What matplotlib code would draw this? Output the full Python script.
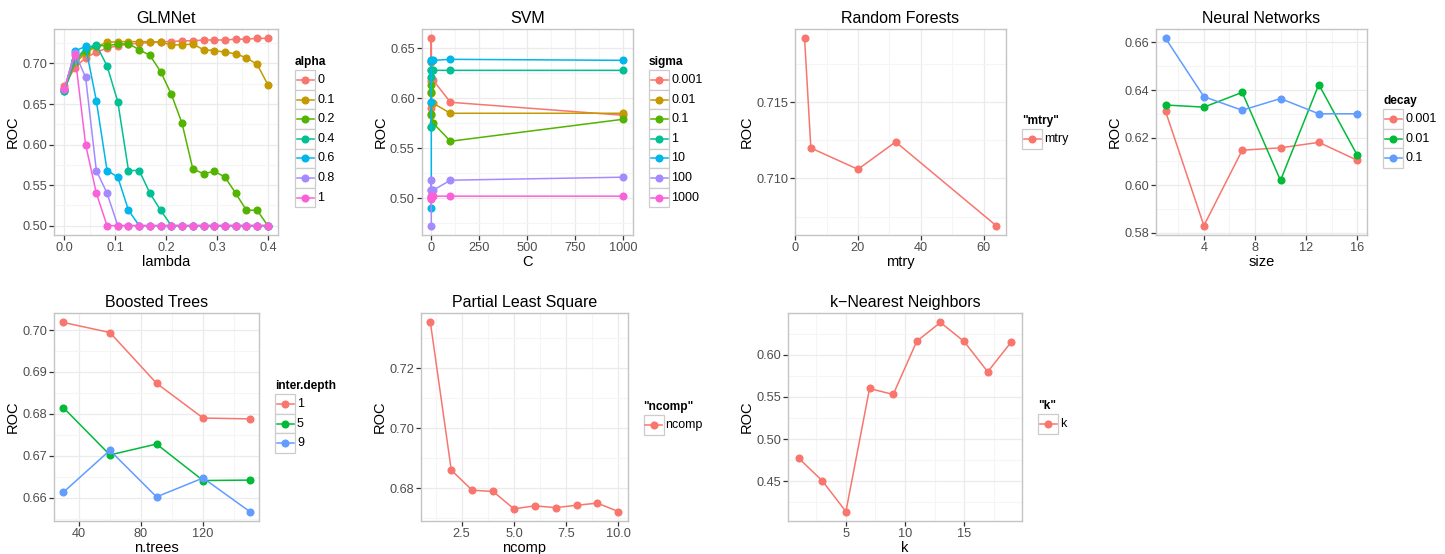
import matplotlib
matplotlib.use("Agg")
import matplotlib.pyplot as plt
from matplotlib.ticker import MultipleLocator, AutoMinorLocator, FormatStrFormatter
from matplotlib.lines import Line2D
from matplotlib.patches import Rectangle

plt.rcParams['font.family'] = ['Liberation Sans', 'DejaVu Sans']

W, H = 1445, 554
DPI = 100

HUE7 = ['#F8766D', '#C49A00', '#53B400', '#00C094', '#00B6EB', '#A58AFF', '#FB61D7']
HUE3 = ['#F8766D', '#00BA38', '#619CFF']
HUE1 = ['#F8766D']

# ---------------- data ----------------
glm_lambda = [0.4 * i / 19 for i in range(20)]
glm_alpha = ['0', '0.1', '0.2', '0.4', '0.6', '0.8', '1']
glm_a0 = [0.672, 0.695, 0.707, 0.714, 0.719, 0.722, 0.724, 0.725, 0.726, 0.727,
          0.727, 0.728, 0.728, 0.729, 0.729, 0.729, 0.730, 0.730, 0.731, 0.731]
glm_a01 = [0.668, 0.700, 0.713, 0.721, 0.726, 0.727, 0.727, 0.727, 0.727, 0.726,
           0.723, 0.723, 0.724, 0.717, 0.716, 0.714, 0.712, 0.707, 0.699, 0.674]
glm_a02 = [0.666, 0.702, 0.716, 0.722, 0.722, 0.724, 0.7245, 0.717, 0.710, 0.690,
           0.662, 0.626, 0.570, 0.564, 0.567, 0.560, 0.540, 0.519, 0.519, 0.500]
glm_a04 = [0.666, 0.704, 0.719, 0.723, 0.697, 0.653, 0.568, 0.568, 0.540, 0.519,
           0.500, 0.500, 0.500, 0.500, 0.500, 0.500, 0.500, 0.500, 0.500, 0.500]
glm_a06 = [0.667, 0.7155, 0.721, 0.654, 0.568, 0.560, 0.519, 0.500, 0.500, 0.500,
           0.500, 0.500, 0.500, 0.500, 0.500, 0.500, 0.500, 0.500, 0.500, 0.500]
glm_a08 = [0.668, 0.713, 0.683, 0.568, 0.540, 0.500, 0.500, 0.500, 0.500, 0.500,
           0.500, 0.500, 0.500, 0.500, 0.500, 0.500, 0.500, 0.500, 0.500, 0.500]
glm_a1 = [0.668, 0.711, 0.600, 0.540, 0.500, 0.500, 0.500, 0.500, 0.500, 0.500,
          0.500, 0.500, 0.500, 0.500, 0.500, 0.500, 0.500, 0.500, 0.500, 0.500]
glm_series = [glm_a0, glm_a01, glm_a02, glm_a04, glm_a06, glm_a08, glm_a1]

svm_C = [0.001, 0.01, 0.1, 1, 10, 100, 1000]
svm_sigma = ['0.001', '0.01', '0.1', '1', '10', '100', '1000']
svm_s0001 = [0.590, 0.660, 0.620, 0.617, 0.618, 0.596, 0.583]
svm_s001 = [0.605, 0.636, 0.583, 0.595, 0.595, 0.585, 0.585]
svm_s01 = [0.571, 0.613, 0.606, 0.584, 0.575, 0.557, 0.579]
svm_s1 = [0.571, 0.621, 0.628, 0.628, 0.628, 0.628, 0.628]
svm_s10 = [0.490, 0.596, 0.638, 0.637, 0.638, 0.639, 0.638]
svm_s100 = [0.4725, 0.518, 0.508, 0.508, 0.508, 0.518, 0.521]
svm_s1000 = [0.499, 0.500, 0.502, 0.501, 0.502, 0.502, 0.502]
svm_series = [svm_s0001, svm_s001, svm_s01, svm_s1, svm_s10, svm_s100, svm_s1000]

rf_mtry = [3, 5, 20, 32, 64]
rf_roc = [0.7192, 0.7120, 0.7106, 0.7124, 0.7069]

nn_size = [1, 4, 7, 10, 13, 16]
nn_decay = ['0.001', '0.01', '0.1']
nn_d0001 = [0.631, 0.583, 0.6147, 0.6157, 0.618, 0.6105]
nn_d001 = [0.6337, 0.6328, 0.639, 0.602, 0.6423, 0.6127]
nn_d01 = [0.6617, 0.6372, 0.6315, 0.6364, 0.630, 0.630]
nn_series = [nn_d0001, nn_d001, nn_d01]

bt_ntrees = [30, 60, 90, 120, 150]
bt_depth = ['1', '5', '9']
bt_d1 = [0.7018, 0.6994, 0.6873, 0.6790, 0.6788]
bt_d5 = [0.6815, 0.6702, 0.6728, 0.6641, 0.6642]
bt_d9 = [0.6613, 0.6713, 0.6602, 0.6647, 0.6567]
bt_series = [bt_d1, bt_d5, bt_d9]

pls_ncomp = [1, 2, 3, 4, 5, 6, 7, 8, 9, 10]
pls_roc = [0.7353, 0.6861, 0.6794, 0.6790, 0.6732, 0.6742, 0.6736, 0.6744, 0.6751, 0.6723]

knn_k = [1, 3, 5, 7, 9, 11, 13, 15, 17, 19]
knn_roc = [0.4773, 0.4504, 0.4139, 0.5600, 0.5529, 0.6162, 0.6384, 0.6158, 0.5798, 0.6154]

# ---------------- figure ----------------
fig = plt.figure(figsize=(W / DPI, H / DPI), dpi=DPI)
fig.patch.set_facecolor('white')

TICK_COL = '#4d4d4d'
BORDER = '#c4c4c4'
MS = 4.8


def make_ax(l, t, r, b):
    return fig.add_axes([l / W, 1 - b / H, (r - l) / W, (b - t) / H])


def style(ax, title, xlabel, xmaj, ymaj, xfmt, yfmt):
    ax.set_facecolor('white')
    ax.xaxis.set_major_locator(MultipleLocator(xmaj))
    ax.yaxis.set_major_locator(MultipleLocator(ymaj))
    ax.xaxis.set_minor_locator(AutoMinorLocator(2))
    ax.yaxis.set_minor_locator(AutoMinorLocator(2))
    ax.xaxis.set_major_formatter(FormatStrFormatter(xfmt))
    ax.yaxis.set_major_formatter(FormatStrFormatter(yfmt))
    ax.grid(True, which='major', color='#ebebeb', lw=0.9, zorder=0)
    ax.grid(True, which='minor', color='#f5f5f5', lw=0.8, zorder=0)
    ax.set_axisbelow(True)
    for s in ax.spines.values():
        s.set_color(BORDER)
        s.set_linewidth(1.0)
    ax.tick_params(which='major', length=3.5, width=0.9, color='#333333',
                   labelsize=9.2, labelcolor=TICK_COL, pad=1.5)
    ax.tick_params(which='minor', length=0)
    ax.set_title(title, fontsize=11.5, pad=4, color='black')
    ax.set_xlabel(xlabel, fontsize=10.5, labelpad=0.5)
    ax.set_ylabel('ROC', fontsize=10.5, labelpad=1.5)


def plot_series(ax, x, ys, colors):
    for y, c in zip(ys, colors):
        ax.plot(x, y, color=c, lw=1.1, marker='o', ms=MS, mec=c, mfc=c, zorder=3,
                clip_on=False)


def legend(x_left, first_center, title, labels, colors):
    kw, kh = 20, 19.6
    top = first_center - kh / 2
    fig.text(x_left / W, 1 - (top - 8) / H, title, fontsize=8.6, fontweight='bold',
             ha='left', va='center')
    for i, (lab, c) in enumerate(zip(labels, colors)):
        ytop = top + i * kh
        fig.add_artist(Rectangle((x_left / W, 1 - (ytop + kh) / H), kw / W, kh / H,
                                 transform=fig.transFigure, facecolor='white',
                                 edgecolor='#cccccc', lw=0.9))
        yc = 1 - (ytop + kh / 2) / H
        fig.add_artist(Line2D([(x_left + 1.5) / W, (x_left + kw - 1.5) / W], [yc, yc],
                              transform=fig.transFigure, color=c, lw=1.1))
        fig.add_artist(Line2D([(x_left + kw / 2) / W], [yc], transform=fig.transFigure,
                              color=c, marker='o', ms=MS, lw=0))
        fig.text((x_left + kw + 2) / W, yc, lab, fontsize=9, ha='left', va='center',
                 color='black')


# GLMNet
ax = make_ax(54, 29, 278, 235)
plot_series(ax, glm_lambda, glm_series, HUE7)
style(ax, 'GLMNet', 'lambda', 0.1, 0.05, '%.1f', '%.2f')
legend(295, 80, 'alpha', glm_alpha, HUE7)

# SVM
ax = make_ax(421.7, 29, 632.7, 235)
plot_series(ax, svm_C, svm_series, HUE7)
style(ax, 'SVM', 'C', 250, 0.05, '%d', '%.2f')
legend(649, 80, 'sigma', svm_sigma, HUE7)

# Random Forests
ax = make_ax(795, 29, 1005.7, 235)
plot_series(ax, rf_mtry, [rf_roc], HUE1)
style(ax, 'Random Forests', 'mtry', 20, 0.005, '%d', '%.3f')
legend(1022, 139, '"mtry"', ['mtry'], HUE1)

# Neural Networks
ax = make_ax(1156, 29, 1366.7, 235)
plot_series(ax, nn_size, nn_series, HUE3)
style(ax, 'Neural Networks', 'size', 4, 0.02, '%d', '%.2f')
legend(1383, 119, 'decay', nn_decay, HUE3)

# Boosted Trees
ax = make_ax(54, 313, 259, 521)
plot_series(ax, bt_ntrees, bt_series, HUE3)
style(ax, 'Boosted Trees', 'n.trees', 40, 0.01, '%d', '%.2f')
legend(275, 404, 'inter.depth', bt_depth, HUE3)

# Partial Least Square
ax = make_ax(421, 313, 627.7, 521)
plot_series(ax, pls_ncomp, [pls_roc], HUE1)
style(ax, 'Partial Least Square', 'ncomp', 2.5, 0.02, '%.1f', '%.2f')
legend(643.5, 425, '"ncomp"', ['ncomp'], HUE1)

# k-Nearest Neighbors
ax = make_ax(788, 313, 1022, 521)
plot_series(ax, knn_k, [knn_roc], HUE1)
style(ax, 'k\u2212Nearest Neighbors', 'k', 5, 0.05, '%d', '%.2f')
legend(1038, 424, '"k"', ['k'], HUE1)

fig.savefig('out.png', dpi=DPI, facecolor='white')
